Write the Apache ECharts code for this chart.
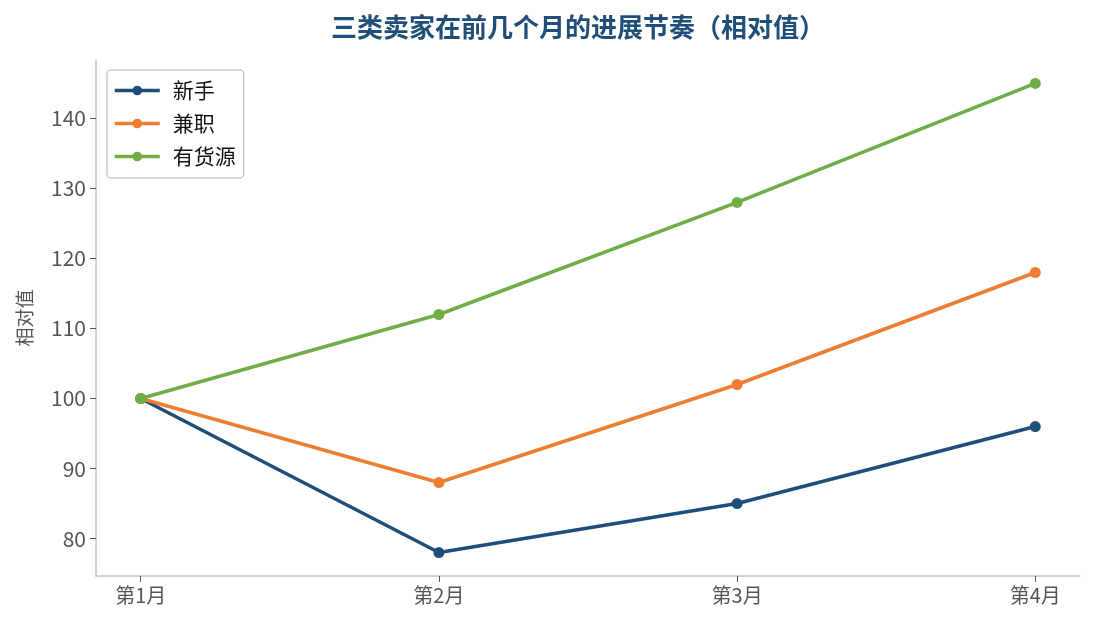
<!DOCTYPE html>
<html>
<head>
<meta charset="utf-8">
<script src="https://cdn.jsdelivr.net/npm/echarts@6/dist/echarts.min.js"></script>
<style>
  html, body { margin: 0; padding: 0; background: #fff; }
  #chart { width: 1095px; height: 629px; }
</style>
</head>
<body>
<div id="chart"></div>
<script>
// 数据
const months = ['第1月', '第2月', '第3月', '第4月']
const novice = [100, 78, 85, 96]
const partTime = [100, 88, 102, 118]
const supplier = [100, 112, 128, 145]
const yTicks = [80, 90, 100, 110, 120, 130, 140]

const font = '"Noto Sans CJK SC", "Noto Sans", sans-serif'
const toPoints = arr => arr.map((v, i) => [i, v])

const makeSeries = (name, data, color) => ({
  name,
  type: 'line',
  data: toPoints(data),
  symbol: 'circle',
  symbolSize: 11,
  lineStyle: { width: 3.5, color },
  itemStyle: { color },
  emphasis: { disabled: true }
})

const chart = echarts.init(document.getElementById('chart'))
chart.setOption({
  animation: false,
  textStyle: { fontFamily: font },
  title: {
    text: '三类卖家在前几个月的进展节奏（相对值）',
    left: 326,
    top: 9,
    textStyle: { fontSize: 26, fontWeight: 'bold', color: '#1f4e79', fontFamily: font }
  },
  legend: {
    left: 107,
    top: 70,
    orient: 'vertical',
    itemWidth: 45,
    itemHeight: 12,
    itemGap: 12,
    padding: [10, 8, 11, 6],
    borderColor: '#cccccc',
    borderWidth: 1.5,
    borderRadius: 4,
    lineStyle: { width: 3.5 },
    textStyle: { fontSize: 21, color: '#111', fontFamily: font, padding: [0, 0, 0, 8] }
  },
  grid: { left: 96, right: 15, top: 60, bottom: 53 },
  xAxis: {
    type: 'value',
    min: -0.15,
    max: 3.15,
    splitLine: { show: false },
    axisLine: { onZero: false, lineStyle: { color: '#c4c4c4', width: 1.5 } },
    axisTick: { show: true, length: 6, customValues: [0, 1, 2, 3], lineStyle: { color: '#555' } },
    axisLabel: {
      customValues: [0, 1, 2, 3],
      formatter: v => months[Math.round(v)],
      fontSize: 20, color: '#555', margin: 9
    }
  },
  yAxis: {
    type: 'value',
    min: 74.65,
    max: 148.35,
    name: '相对值',
    nameLocation: 'middle',
    nameGap: 62,
    nameTextStyle: { fontSize: 19, color: '#555' },
    splitLine: { show: false },
    axisLine: { show: true, onZero: false, lineStyle: { color: '#c4c4c4', width: 1.5 } },
    axisTick: { show: true, length: 6, customValues: yTicks, lineStyle: { color: '#555' } },
    axisLabel: { customValues: yTicks, fontSize: 21, color: '#555', margin: 10 }
  },
  series: [
    makeSeries('新手', novice, '#1f4e79'),
    makeSeries('兼职', partTime, '#ed7d31'),
    makeSeries('有货源', supplier, '#70ad47')
  ]
})
</script>
</body>
</html>
